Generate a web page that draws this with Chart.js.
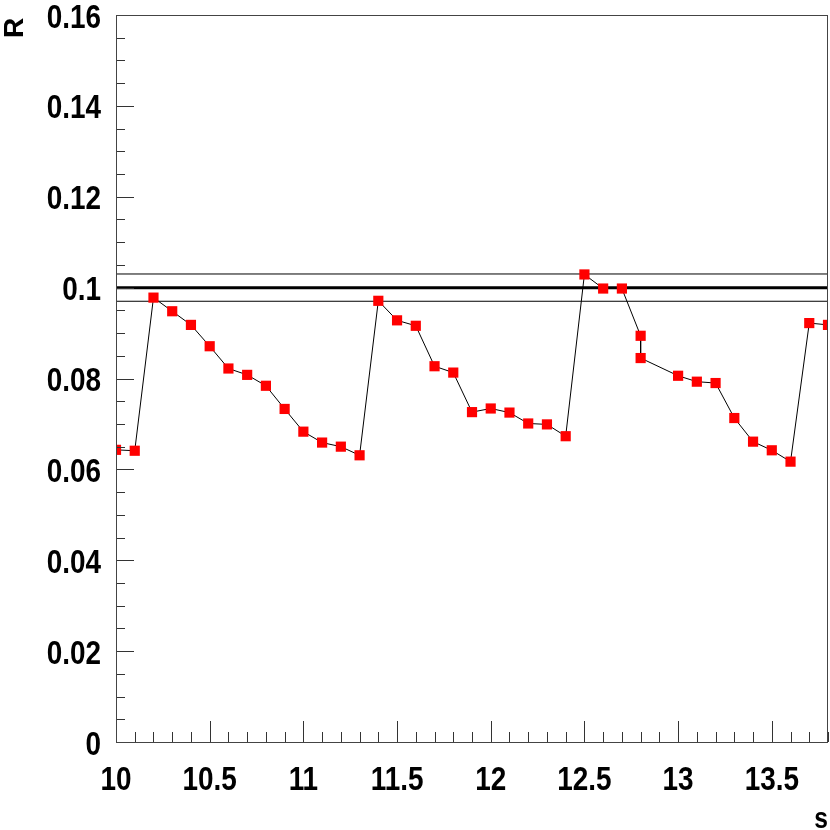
<!DOCTYPE html>
<html>
<head>
<meta charset="utf-8">
<script src="https://cdn.jsdelivr.net/npm/chart.js@4/dist/chart.umd.min.js"></script>
<style>
  html, body { margin: 0; padding: 0; background: #fff; }
</style>
</head>
<body>
<canvas id="c" width="830" height="830"></canvas>
<script>
// data
const sValues = [10.0, 10.1, 10.2, 10.3, 10.4, 10.5, 10.6, 10.7, 10.8, 10.9,
  11.0, 11.1, 11.2, 11.3, 11.4, 11.5, 11.6, 11.7, 11.8, 11.9,
  12.0, 12.1, 12.2, 12.3, 12.4, 12.5, 12.6, 12.7, 12.8, 12.8,
  13.0, 13.1, 13.2, 13.3, 13.4, 13.5, 13.6, 13.7, 13.8];
const rValues = [0.0643, 0.0641, 0.0978, 0.0948, 0.0918, 0.0871, 0.0822, 0.0808, 0.0784, 0.0733,
  0.0683, 0.0659, 0.0650, 0.0631, 0.0971, 0.0928, 0.0916, 0.0827, 0.0813, 0.0726,
  0.0734, 0.0725, 0.0701, 0.0699, 0.0673, 0.1029, 0.0998, 0.0998, 0.0894, 0.0845,
  0.0806, 0.0793, 0.0790, 0.0713, 0.0661, 0.0642, 0.0617, 0.0922, 0.0918];

// reference level and its band
const refCenter = 0.1;
const refBand = [0.103, 0.097];
const xRange = [10, 13.8];

const xTickLabels = [10, 10.5, 11, 11.5, 12, 12.5, 13, 13.5];
const yTickLabels = [0, 0.02, 0.04, 0.06, 0.08, 0.1, 0.12, 0.14, 0.16];

const FONT = "'Liberation Sans', Arial, sans-serif";
const SQUEEZE = 0.82; // no narrow font installed, so squeeze the bold one

function hline(v, width) {
  return {
    data: xRange.map(x => ({ x: x, y: v })),
    borderColor: '#000',
    borderWidth: width,
    pointRadius: 0,
    showLine: true,
    order: 2
  };
}

function narrowText(ctx, text, x, y, align) {
  ctx.save();
  ctx.translate(x, y);
  ctx.scale(SQUEEZE, 1);
  ctx.textAlign = align;
  ctx.fillText(text, 0, 0);
  ctx.restore();
}

// inward ticks, frame, labels and axis titles, ROOT style
const frame = {
  id: 'frame',
  afterDatasetsDraw(chart) {
    const { ctx, chartArea: a, scales: { x, y } } = chart;
    ctx.save();
    ctx.strokeStyle = '#333';
    ctx.lineWidth = 1;

    // x ticks: major every 0.5, minor every 0.1
    for (let i = 0; i <= 38; i++) {
      const v = 10 + i * 0.1;
      const px = Math.round(x.getPixelForValue(v)) + 0.5;
      const len = i % 5 === 0 ? 21 : 10;
      ctx.beginPath();
      ctx.moveTo(px, a.bottom);
      ctx.lineTo(px, a.bottom - len);
      ctx.stroke();
    }
    // y ticks: major every 0.02, minor every 0.005
    for (let i = 0; i <= 32; i++) {
      const v = i * 0.005;
      const py = Math.round(y.getPixelForValue(v)) + 0.5;
      const len = i % 4 === 0 ? 18 : 9;
      ctx.beginPath();
      ctx.moveTo(a.left, py);
      ctx.lineTo(a.left + len, py);
      ctx.stroke();
    }

    ctx.strokeStyle = '#444';
    ctx.strokeRect(Math.round(a.left) + 0.5, Math.round(a.top) + 0.5,
      Math.round(a.right - a.left) - 1, Math.round(a.bottom - a.top));

    ctx.fillStyle = '#000';
    ctx.textBaseline = 'alphabetic';
    ctx.font = 'bold 34px ' + FONT;
    xTickLabels.forEach(v => {
      narrowText(ctx, String(v), x.getPixelForValue(v), a.bottom + 48, 'center');
    });
    yTickLabels.forEach(v => {
      narrowText(ctx, String(v), a.left - 15, y.getPixelForValue(v) + 12.5, 'right');
    });

    ctx.font = 'bold 30px ' + FONT;
    narrowText(ctx, 's', 828, 828, 'right');

    ctx.translate(23, 28);
    ctx.rotate(-Math.PI / 2);
    ctx.textAlign = 'center';
    ctx.font = 'bold 28px ' + FONT;
    ctx.fillText('R', 0, 0);
    ctx.restore();
  }
};

new Chart(document.getElementById('c'), {
  type: 'scatter',
  data: {
    datasets: [
      {
        data: sValues.map((s, i) => ({ x: s, y: rValues[i] })),
        showLine: true,
        borderColor: '#000',
        borderWidth: 1,
        pointStyle: 'rect',
        pointRadius: 7.2,
        pointBackgroundColor: '#ff0000',
        pointBorderColor: '#ff0000',
        pointBorderWidth: 0,
        clip: 0,
        order: 1
      },
      hline(refCenter, 3),
      hline(refBand[0], 1),
      hline(refBand[1], 1)
    ]
  },
  options: {
    responsive: false,
    animation: false,
    layout: { autoPadding: false, padding: { top: 15, right: 2, left: 0, bottom: 0 } },
    plugins: { legend: { display: false }, tooltip: { enabled: false } },
    scales: {
      x: {
        type: 'linear',
        min: xRange[0],
        max: xRange[1],
        grid: { display: false },
        border: { display: false },
        ticks: { display: false },
        afterFit(s) { s.height = 88; s.paddingLeft = 0; s.paddingRight = 0; }
      },
      y: {
        type: 'linear',
        min: 0,
        max: 0.16,
        grid: { display: false },
        border: { display: false },
        ticks: { display: false },
        afterFit(s) { s.width = 116; s.paddingTop = 0; s.paddingBottom = 0; }
      }
    }
  },
  plugins: [frame]
});
</script>
</body>
</html>
